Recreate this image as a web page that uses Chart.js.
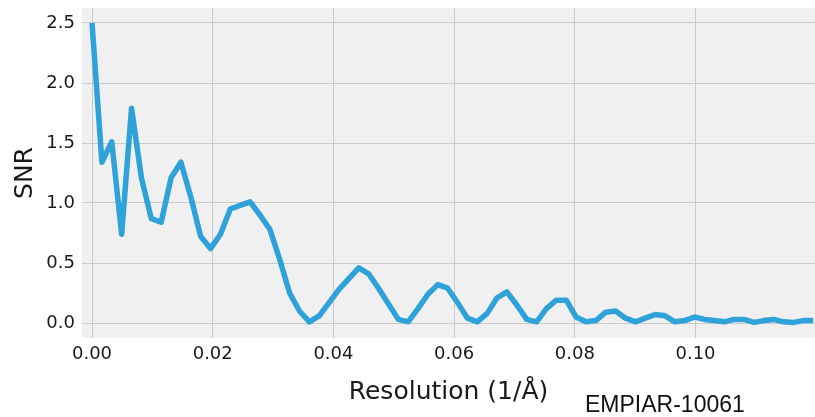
<!DOCTYPE html>
<html>
<head>
<meta charset="utf-8">
<script src="https://cdn.jsdelivr.net/npm/chart.js@4.4.1/dist/chart.umd.min.js"></script>
<style>
  html, body { margin: 0; padding: 0; background: #ffffff; }
  #wrap { position: relative; width: 815px; height: 417px; }
  #note { position: absolute; left: 585px; top: 390px; font-family: "Liberation Sans", Arial, sans-serif; font-size: 23px; color: #111; line-height: 28px; white-space: nowrap; }
</style>
</head>
<body>
<div id="wrap">
  <canvas id="c" width="815" height="417"></canvas>
  <div id="note">EMPIAR-10061</div>
</div>
<script>
// Resolution (1/Å) sample positions
const resolution = [
  0, 0.00164, 0.00327, 0.00491, 0.00655, 0.00819, 0.00982, 0.01146, 0.0131, 0.01473,
  0.01637, 0.01801, 0.01964, 0.02128, 0.02292, 0.02456, 0.02619, 0.02783, 0.02947, 0.0311,
  0.03274, 0.03438, 0.03601, 0.03765, 0.03929, 0.04093, 0.04256, 0.0442, 0.04584, 0.04747,
  0.04911, 0.05075, 0.05238, 0.05402, 0.05566, 0.0573, 0.05893, 0.06057, 0.06221, 0.06384,
  0.06548, 0.06712, 0.06875, 0.07039, 0.07203, 0.07367, 0.0753, 0.07694, 0.07858, 0.08021,
  0.08185, 0.08349, 0.08512, 0.08676, 0.0884, 0.09004, 0.09167, 0.09331, 0.09495, 0.09658,
  0.09822, 0.09986, 0.10149, 0.10313, 0.10477, 0.10641, 0.10804, 0.10968, 0.11132, 0.11295,
  0.11459, 0.11623, 0.11786, 0.1195
];
// SNR values
const snr = [
  2.50, 1.34, 1.51, 0.74, 1.79, 1.21, 0.87, 0.84, 1.21, 1.34,
  1.05, 0.72, 0.62, 0.74, 0.95, 0.98, 1.01, 0.90, 0.78, 0.53,
  0.25, 0.10, 0.01, 0.06, 0.17, 0.28, 0.37, 0.46, 0.41, 0.29,
  0.16, 0.03, 0.01, 0.12, 0.24, 0.32, 0.29, 0.17, 0.04, 0.01,
  0.08, 0.21, 0.26, 0.15, 0.03, 0.01, 0.12, 0.19, 0.19, 0.05,
  0.01, 0.02, 0.09, 0.10, 0.04, 0.01, 0.04, 0.07, 0.06, 0.01,
  0.02, 0.05, 0.03, 0.02, 0.01, 0.03, 0.03, 0.005, 0.02, 0.03,
  0.01, 0.005, 0.02, 0.02
];
const xTicks = [0, 0.02, 0.04, 0.06, 0.08, 0.10];
const yTicks = [0, 0.5, 1.0, 1.5, 2.0, 2.5];

const points = resolution.map((x, i) => ({ x: x, y: snr[i] }));

const plotBg = {
  id: 'plotBg',
  beforeDraw(chart) {
    const a = chart.chartArea;
    const ctx = chart.ctx;
    ctx.save();
    ctx.fillStyle = '#f0f0f0';
    ctx.fillRect(a.left, a.top, a.right - a.left, a.bottom - a.top);
    ctx.restore();
  }
};

const tickFont = { family: '"DejaVu Sans", sans-serif', size: 18 };
const titleFont = { family: '"DejaVu Sans", sans-serif', size: 25 };

new Chart(document.getElementById('c'), {
  type: 'line',
  data: {
    datasets: [{
      data: points,
      borderColor: '#30a2da',
      borderWidth: 5.5,
      pointRadius: 0,
      tension: 0,
      fill: false,
      borderJoinStyle: 'round',
      borderCapStyle: 'butt'
    }]
  },
  options: {
    responsive: false,
    animation: false,
    devicePixelRatio: 1,
    layout: { padding: { top: 8, right: 0, left: 0, bottom: 0 } },
    plugins: { legend: { display: false }, tooltip: { enabled: false } },
    scales: {
      x: {
        type: 'linear',
        position: 'bottom',
        min: -0.00166,
        max: 0.1198,
        afterBuildTicks: s => { s.ticks = xTicks.map(v => ({ value: v })); },
        afterFit: s => { s.height = 79; s.paddingLeft = 0; s.paddingRight = 0; },
        grid: { color: '#cbcbcb', lineWidth: 1, drawTicks: false },
        border: { display: false },
        ticks: {
          font: tickFont, color: '#1a1a1a', padding: 6, maxRotation: 0, autoSkip: false,
          callback: v => Number(v).toFixed(2)
        },
        title: { display: true, text: 'Resolution (1/Å)', font: titleFont, color: '#1a1a1a', padding: { top: 0, bottom: 10 } }
      },
      y: {
        type: 'linear',
        min: -0.125,
        max: 2.625,
        afterBuildTicks: s => { s.ticks = yTicks.map(v => ({ value: v })); },
        afterFit: s => { s.width = 82; s.paddingTop = 0; s.paddingBottom = 0; },
        grid: { color: '#cbcbcb', lineWidth: 1, drawTicks: false },
        border: { display: false },
        ticks: {
          font: tickFont, color: '#1a1a1a', padding: 7, autoSkip: false,
          callback: v => Number(v).toFixed(1)
        },
        title: { display: true, text: 'SNR', font: titleFont, color: '#1a1a1a', padding: { top: 10, bottom: 0 } }
      }
    }
  },
  plugins: [plotBg]
});
</script>
</body>
</html>
